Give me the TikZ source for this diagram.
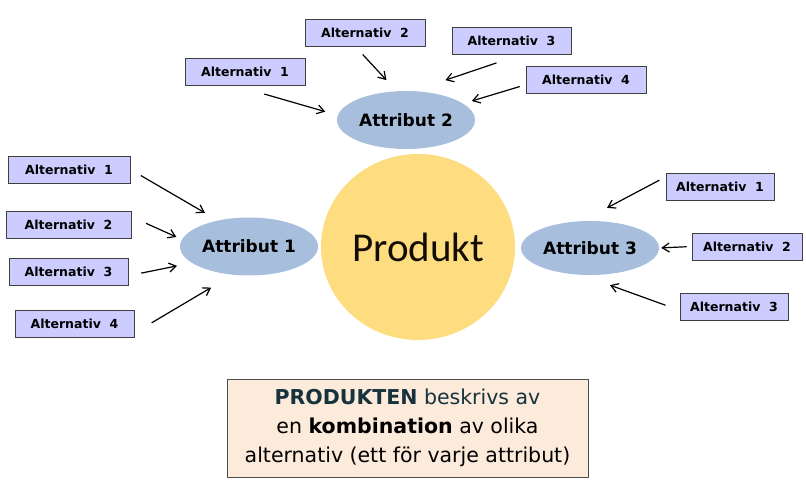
\documentclass[tikz,border=0pt]{standalone}
\usepackage{fontspec}
\setmainfont{DejaVu Sans}
\newfontfamily\prodfont{Carlito}
\usetikzlibrary{arrows.meta, positioning, shapes.geometric}
\definecolor{prodyellow}{RGB}{254,221,128}
\definecolor{attrblue}{RGB}{167,191,220}
\definecolor{altfill}{RGB}{204,204,255}
\definecolor{notefill}{RGB}{252,234,218}
\definecolor{deepteal}{RGB}{22,50,60}

\begin{document}
\begin{tikzpicture}[
    x=1pt, y=-1pt,
    altbox/.style={draw=black!75, fill=altfill, line width=0.9pt, minimum height=27pt, inner sep=0pt, font=\fontsize{12.5}{14}\selectfont\bfseries},
    attr/.style={ellipse, fill=attrblue, minimum width=138pt, minimum height=58pt, inner sep=0pt, font=\fontsize{17}{18}\selectfont\bfseries},
    arrow/.style={-{Straight Barb[length=7pt, width=9pt]}, line width=1.2pt, black}
]
\useasboundingbox (0,0) rectangle (806,484);

\node[ellipse, fill=prodyellow, minimum width=194pt, minimum height=186pt, inner sep=0pt, font=\prodfont\fontsize{41}{44}\selectfont, text=black!90!brown] (prod) at (418,247) {Produkt};

\node[attr] (a1) at (249,246.5) {Attribut 1};
\node[attr] (a2) at (406,120) {Attribut 2};
\node[attr, minimum height=54pt] (a3) at (590,248) {Attribut 3};

% alternativ boxes
\foreach \name/\x/\y/\w/\n in {l1/69/169.5/122/1, l2/68.5/224.5/125/2, l3/68.5/271.5/119/3, l4/74.5/323.5/119/4,
    t1/245/71.5/120/1, t2/365/32.5/120/2, t3/511.5/41/119/3, t4/586/79.5/120/4,
    r1/720/186.5/108/1, r2/747/246.5/110/2, r3/734/306.5/108/3} {
    \node[altbox, minimum width=\w pt] (\name) at (\x,\y) {Alternativ\ \ \n};
}

\draw[arrow, shorten <=12pt, shorten >=15pt] (l1.east) -- (a1.140);
\draw[arrow, shorten <=16pt, shorten >=6pt] (l2.7) -- (a1.174);
\draw[arrow, shorten <=13pt, shorten >=15pt] (l3.-4) -- (a1.196);
\draw[arrow, shorten <=20pt, shorten >=25pt] (l4.-9) -- (a1.240);

\draw[arrow, shorten <=31pt, shorten >=13pt] (t1.233) -- (a2.176);
\draw[arrow, shorten <=11pt, shorten >=15pt] (t2.235) -- (a2.108);
\draw[arrow, shorten <=25pt, shorten >=34pt] (t3.-58) -- (a2.76);
\draw[arrow, shorten <=6pt, shorten >=9pt] (t4.185) -- (a2.16);

\draw[arrow, shorten <=7pt, shorten >=28pt] (r1.170) -- (a3.106);
\draw[arrow, shorten <=5pt, shorten >=2pt] (r2.west) -- (a3.east);
\draw[arrow, shorten <=15pt, shorten >=30pt] (r3.184) -- (a3.253);

\node[draw=black!70, fill=notefill, line width=0.9pt, minimum width=361pt, minimum height=98pt, inner sep=0pt, align=center, font=\fontsize{20.5}{29}\selectfont] (note) at (407.5,428) {%
    \textcolor{deepteal}{\textbf{PRODUKTEN} beskrivs av}\\
    en \textbf{kombination} av olika\\
    alternativ (ett för varje attribut)};
\end{tikzpicture}
\end{document}
